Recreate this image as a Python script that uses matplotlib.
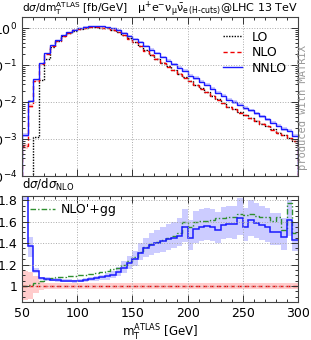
import numpy as np
import matplotlib
matplotlib.use("Agg")
import matplotlib.pyplot as plt
from matplotlib.ticker import MultipleLocator, FixedLocator, FixedFormatter
from matplotlib.lines import Line2D

# binning of m_T^ATLAS in GeV
edges = np.arange(50, 305, 5)

# upper panel: d sigma / d m_T  [fb/GeV]
lo = [0, 0, 1.15e-3, 0.039, 0.145, 0.30, 0.44, 0.60, 0.73, 0.86,
      0.96, 1.02, 1.05, 1.05, 1.03, 0.98, 0.91, 0.79, 0.66, 0.53,
      0.42, 0.325, 0.25, 0.192, 0.15, 0.117, 0.092, 0.073, 0.058, 0.047,
      0.0365, 0.0292, 0.0235, 0.0187, 0.0149, 0.0119, 0.0094, 0.0075, 0.0063, 0.0053,
      0.0044, 0.0038, 0.0031, 0.0026, 0.0022, 0.00185, 0.0015, 0.00128, 0.00106, 0.00088]
nlo = [6.3e-4, 7.9e-3, 0.037, 0.104, 0.20, 0.33, 0.46, 0.61, 0.74, 0.87,
       0.97, 1.03, 1.06, 1.05, 1.03, 0.98, 0.90, 0.78, 0.65, 0.52,
       0.41, 0.32, 0.245, 0.19, 0.148, 0.115, 0.091, 0.072, 0.058, 0.046,
       0.036, 0.029, 0.023, 0.0186, 0.0148, 0.0117, 0.0093, 0.0074, 0.0063, 0.0052,
       0.0044, 0.0037, 0.0031, 0.0026, 0.0022, 0.0018, 0.0015, 0.00126, 0.00105, 0.00087]

# lower panel: ratios to NLO
r_nnlo = [2.10, 1.37, 1.14, 1.07, 1.065, 1.06, 1.055, 1.05, 1.05, 1.045,
          1.05, 1.06, 1.065, 1.075, 1.08, 1.09, 1.10, 1.13, 1.17, 1.21,
          1.25, 1.31, 1.35, 1.38, 1.40, 1.42, 1.44, 1.45, 1.47, 1.55,
          1.45, 1.53, 1.55, 1.56, 1.55, 1.52, 1.57, 1.58, 1.58, 1.63,
          1.55, 1.62, 1.59, 1.57, 1.55, 1.50, 1.50, 1.46, 1.62, 1.43]
r_nnlo_lo = [1.80, 1.27, 1.12, 1.055, 1.05, 1.045, 1.04, 1.035, 1.035, 1.03,
             1.035, 1.04, 1.045, 1.05, 1.055, 1.06, 1.07, 1.09, 1.12, 1.16,
             1.19, 1.24, 1.27, 1.29, 1.31, 1.32, 1.34, 1.35, 1.37, 1.41,
             1.34, 1.40, 1.42, 1.43, 1.42, 1.40, 1.44, 1.45, 1.44, 1.48,
             1.42, 1.47, 1.45, 1.43, 1.41, 1.38, 1.38, 1.34, 1.47, 1.33]
r_nnlo_hi = [2.30, 1.46, 1.17, 1.085, 1.08, 1.075, 1.07, 1.065, 1.065, 1.06,
             1.065, 1.075, 1.085, 1.095, 1.105, 1.12, 1.14, 1.18, 1.23, 1.28,
             1.33, 1.40, 1.45, 1.49, 1.52, 1.55, 1.58, 1.60, 1.63, 1.72,
             1.62, 1.70, 1.72, 1.73, 1.72, 1.69, 1.74, 1.75, 1.75, 1.82,
             1.73, 1.80, 1.77, 1.75, 1.73, 1.68, 1.68, 1.63, 1.80, 1.60]
r_nlo_lo = [0.87, 0.88, 0.93, 0.96, 0.975, 0.975, 0.975, 0.975, 0.975, 0.975,
            0.975, 0.975, 0.975, 0.975, 0.975, 0.975, 0.975, 0.975, 0.975, 0.975,
            0.975, 0.975, 0.975, 0.975, 0.975, 0.975, 0.975, 0.975, 0.975, 0.975,
            0.975, 0.975, 0.97, 0.975, 0.975, 0.975, 0.975, 0.975, 0.975, 0.975,
            0.975, 0.975, 0.975, 0.975, 0.97, 0.975, 0.975, 0.975, 0.97, 0.975]
r_nlo_hi = [1.14, 1.13, 1.09, 1.05, 1.03, 1.025, 1.025, 1.025, 1.025, 1.025,
            1.025, 1.025, 1.025, 1.025, 1.025, 1.025, 1.025, 1.025, 1.025, 1.025,
            1.025, 1.025, 1.025, 1.025, 1.025, 1.025, 1.025, 1.025, 1.025, 1.025,
            1.025, 1.025, 1.03, 1.025, 1.025, 1.025, 1.025, 1.025, 1.025, 1.025,
            1.025, 1.025, 1.025, 1.025, 1.03, 1.025, 1.025, 1.025, 1.03, 1.025]
r_gg = [1.00, 1.01, 1.03, 1.05, 1.065, 1.075, 1.08, 1.085, 1.09, 1.095,
        1.10, 1.105, 1.11, 1.12, 1.13, 1.14, 1.155, 1.17, 1.20, 1.23,
        1.27, 1.32, 1.36, 1.39, 1.41, 1.43, 1.45, 1.47, 1.49, 1.60,
        1.55, 1.60, 1.61, 1.61, 1.62, 1.63, 1.63, 1.64, 1.64, 1.67,
        1.66, 1.67, 1.65, 1.645, 1.645, 1.61, 1.64, 1.52, 1.77, 1.49]

lo = np.array(lo)
nlo = np.array(nlo)
r_nnlo = np.array(r_nnlo)
nnlo = nlo * r_nnlo

c_lo, c_nlo, c_nnlo, c_gg = "black", "#ee0000", "#1a1aff", "#2f8f2f"
band_nlo, band_nnlo = "#ffcccc", "#ccccff"
fs = 8.5

plt.rcParams["font.family"] = "DejaVu Sans"
plt.rcParams["mathtext.fontset"] = "dejavusans"

fig = plt.figure(figsize=(3.11, 3.40), dpi=100)
W, H = 311, 340
ax1 = fig.add_axes([22 / W, 1 - 176 / H, 276 / W, 159 / H])
ax2 = fig.add_axes([22 / W, 1 - 302 / H, 276 / W, 106 / H])

# upper panel
ax1.stairs(nlo * np.array(r_nlo_hi), edges, baseline=nlo * np.array(r_nlo_lo), fill=True, color=band_nlo, lw=0)
ax1.stairs(nlo * np.array(r_nnlo_hi), edges, baseline=nlo * np.array(r_nnlo_lo), fill=True, color=band_nnlo, lw=0)
ax1.stairs(lo, edges, baseline=1e-7, color=c_lo, ls=(0, (1, 1)), lw=1.0)
ax1.stairs(nlo, edges, baseline=1e-7, color=c_nlo, ls=(0, (3, 2)), lw=1.0)
ax1.stairs(nnlo, edges, baseline=1e-7, color=c_nnlo, lw=1.0)
ax1.set_yscale("log")
ax1.set_ylim(1e-4, 2)
ax1.set_xlim(50, 300)
ax1.tick_params(labelbottom=False)

handles = [Line2D([], [], color=c_lo, ls=(0, (1, 1)), lw=1.0),
           Line2D([], [], color=c_nlo, ls=(0, (3, 2)), lw=1.0),
           Line2D([], [], color=c_nnlo, lw=1.0)]
ax1.legend(handles, ["LO", "NLO", "NNLO"], loc="upper right", bbox_to_anchor=(1.0, 0.985),
           frameon=False, fontsize=9, handlelength=1.5, labelspacing=0.2, handletextpad=0.8)

ax1.text(0.0, 1.031, r"d$\sigma$/dm$_{\rm T}^{\rm ATLAS}$ [fb/GeV]", transform=ax1.transAxes,
         fontsize=7.6, ha="left", va="baseline")
ax1.text(1.0, 1.031, r"$\mathrm{\mu^{+}e^{-}\nu_{\mu}\bar{\nu}_{e\,(H\text{-}cuts)}}$@LHC 13 TeV",
         transform=ax1.transAxes, fontsize=8, ha="right", va="baseline")

# lower panel
ax2.stairs(r_nlo_hi, edges, baseline=r_nlo_lo, fill=True, color=band_nlo, lw=0)
ax2.stairs(r_nnlo_hi, edges, baseline=r_nnlo_lo, fill=True, color=band_nnlo, lw=0)
ax2.stairs(r_gg, edges, baseline=None, color=c_gg, ls=(0, (4, 1.5, 1, 1.5)), lw=1.0)
ax2.stairs(nlo / nlo, edges, baseline=None, color=c_nlo, ls=(0, (3, 2)), lw=1.0)
ax2.stairs(r_nnlo, edges, baseline=None, color=c_nnlo, lw=1.1)
ax2.set_xlim(50, 300)
ax2.set_ylim(0.85, 1.84)
ax2.yaxis.set_major_locator(FixedLocator([1.0, 1.2, 1.4, 1.6, 1.8]))
ax2.yaxis.set_major_formatter(FixedFormatter(["1", "1.2", "1.4", "1.6", "1.8"]))
ax2.yaxis.set_minor_locator(MultipleLocator(0.05))
ax2.legend([Line2D([], [], color=c_gg, ls=(0, (4, 1.5, 1, 1.5)), lw=1.0)], ["NLO'+gg"],
           loc="upper left", frameon=False, fontsize=9, handlelength=2.0,
           handletextpad=0.5, borderaxespad=0.2)
ax2.text(0.0, 1.03, r"d$\sigma$/d$\sigma_{\rm NLO}$", transform=ax2.transAxes,
         fontsize=fs, ha="left", va="bottom")
ax2.set_xlabel(r"m$_{\rm T}^{\rm ATLAS}$ [GeV]", fontsize=fs, labelpad=2)

for ax in (ax1, ax2):
    ax.xaxis.set_major_locator(MultipleLocator(50))
    ax.xaxis.set_minor_locator(MultipleLocator(10))
    ax.tick_params(which="both", direction="in", top=True, right=True, colors="#333333",
                   labelcolor="black", labelsize=fs + 0.5, width=0.7)
    ax.tick_params(which="major", length=5)
    ax.tick_params(which="minor", length=2.5)
    ax.grid(which="major", ls=":", color="#aaaaaa", lw=0.7)
    for s in ax.spines.values():
        s.set_color("#444444")
        s.set_linewidth(0.8)

fig.text(303 / W, 1 - 108 / H, "produced with MATRIX", rotation=90, family="DejaVu Sans Mono",
         color="#999999", fontsize=7.5, ha="center", va="center")

fig.savefig("out.png", dpi=100)
